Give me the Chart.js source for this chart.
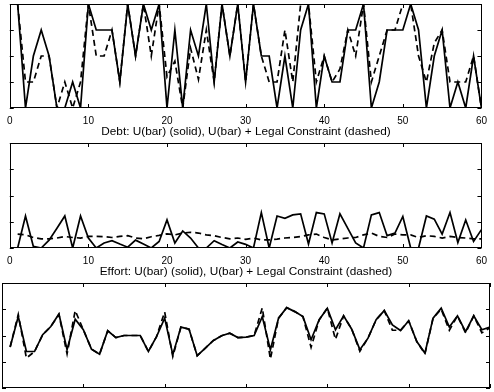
<!DOCTYPE html>
<html>
<head>
<meta charset="utf-8">
<script src="https://cdn.jsdelivr.net/npm/chart.js@4/dist/chart.umd.min.js"></script>
<style>
  html, body { margin: 0; padding: 0; background: #fff; }
  #wrap { position: relative; width: 494px; height: 392px; overflow: hidden; }
  .box { position: absolute; left: 0; width: 494px; }
</style>
</head>
<body>
<div id="wrap">
  <div class="box" style="top:0;height:140px"><canvas id="debtChart"></canvas></div>
  <div class="box" style="top:140px;height:140px"><canvas id="effortChart"></canvas></div>
  <div class="box" style="top:280px;height:112px"><canvas id="thirdChart"></canvas></div>
</div>
<script>
// Periods on the x axis
const periods = [1,2,3,4,5,6,7,8,9,10,11,12,13,14,15,16,17,18,19,20,
  21,22,23,24,25,26,27,28,29,30,31,32,33,34,35,36,37,38,39,40,
  41,42,43,44,45,46,47,48,49,50,51,52,53,54,55,56,57,58,59,60];
const xTicks = [0, 10, 20, 30, 40, 50, 60];
const yTicks = [0, 1, 2, 3, 4];

// Debt: U(bar) (solid) and U(bar) + legal constraint (dashed)
const debtSolid = [4,0,2,3,2,0,0,1,0,4,3,3,3,1,4,2,4,3,4,0,
  3,0,3,2,4,1,4,2,4,1,4,2,2,0,2,0,3,4,0,2,
  1,1,3,3,4,0,1,3,3,3,4,3,0,2,3,0,1,0,2,0];
const debtDashed = [4,1,1,2,2,0,1,0,1,4,2,2,3,1,4,2,4,2,4,1.2,
  1.8,0,2.3,1.1,3,1,4,2,4,1,4,2,1,1,3,1,4,4,1,2,
  1,1.5,3,2,4,1,2,3,3,4,4,2,1,2.5,3,1,1,1,2,0];

// Effort: U(bar) (solid) and U(bar) + legal constraint (dashed)
const effortSolid = [0,1.22,0.06,0,0.3,0.75,1.22,0,1.22,0.38,0,0.19,0.28,0.15,0.03,0.3,0.15,0,0.25,1.07,
  0.19,0.65,0.38,0,0,0.28,0.13,0,0.23,0.14,0,1.35,0,1.22,1.13,1.26,1.3,0.15,1.35,1.3,
  0.19,1.3,0.75,0.19,0,1.26,1.35,0.47,0.57,1.2,0,0,1.22,1.1,0.53,1.35,0.21,1.07,0.25,0.7];
const effortDashed = [0.53,0.5,0.4,0.35,0.35,0.38,0.44,0.4,0.38,0.44,0.44,0.43,0.4,0.44,0.47,0.38,0.35,0.43,0.48,0.54,
  0.5,0.57,0.6,0.57,0.5,0.47,0.4,0.35,0.38,0.33,0.38,0.31,0.31,0.34,0.38,0.4,0.44,0.5,0.53,0.4,
  0.31,0.34,0.38,0.4,0.5,0.57,0.44,0.4,0.53,0.5,0.5,0.4,0.47,0.44,0.38,0.44,0.4,0.38,0.35,0.35];

// Third panel (no caption visible)
const thirdSolid = [1.56,2.72,1.39,1.39,2.03,2.34,2.82,1.46,2.62,2.22,1.48,1.29,2.18,1.92,2.0,2.0,2.0,1.39,1.96,2.66,
  1.27,2.32,2.24,1.23,1.52,1.81,1.99,2.09,1.92,1.94,2.0,2.72,1.46,2.66,3.06,2.91,2.72,1.84,2.6,3.04,
  2.22,2.75,2.24,1.46,1.9,2.6,2.95,2.4,2.19,2.56,1.77,1.33,2.66,3.04,2.32,2.75,2.15,2.75,2.22,2.32];
const thirdDashed = [1.56,2.8,1.14,1.39,2.03,2.34,2.8,1.3,2.95,2.22,1.48,1.29,2.18,1.92,2.0,2.0,2.0,1.39,1.96,2.9,
  1.2,2.32,2.24,1.23,1.52,1.81,1.99,2.09,1.92,1.94,2.0,3.05,1.1,2.66,3.06,2.91,2.72,1.55,2.6,3.04,
  1.85,2.75,2.24,1.4,1.9,2.6,2.95,2.2,2.2,2.56,1.77,1.3,2.66,3.0,2.2,2.75,2.1,2.75,2.1,2.3];

const family = 'Liberation Sans, Arial, sans-serif';

// Box around the plot area with matlab-style inward tick marks
const boxTicks = {
  id: 'boxTicks',
  afterDraw(chart) {
    const { ctx, chartArea: a, scales } = chart;
    const len = 4;
    ctx.save();
    ctx.strokeStyle = '#000';
    ctx.lineWidth = 1;
    ctx.strokeRect(Math.round(a.left) + 0.5, Math.round(a.top) + 0.5,
      Math.round(a.right - a.left) - 1, Math.round(a.bottom - a.top) - 1);
    ctx.beginPath();
    for (const v of xTicks) {
      const px = Math.round(scales.x.getPixelForValue(v)) + 0.5;
      ctx.moveTo(px, a.bottom); ctx.lineTo(px, a.bottom - len);
      ctx.moveTo(px, a.top); ctx.lineTo(px, a.top + len);
    }
    for (const v of yTicks) {
      const py = Math.round(scales.y.getPixelForValue(v)) + 0.5;
      ctx.moveTo(a.left, py); ctx.lineTo(a.left + len, py);
      ctx.moveTo(a.right, py); ctx.lineTo(a.right - len, py);
    }
    ctx.stroke();
    ctx.restore();
  }
};

function pairs(values) {
  return periods.map((p, i) => ({ x: p, y: values[i] }));
}

function makeChart(id, solid, dashed, title, showX, padding) {
  return new Chart(document.getElementById(id), {
    type: 'line',
    data: {
      datasets: [
        { data: pairs(solid), borderColor: '#000', borderWidth: 1.7, pointRadius: 0, tension: 0 },
        { data: pairs(dashed), borderColor: '#000', borderWidth: 1.7, borderDash: [6, 4], pointRadius: 0, tension: 0 }
      ]
    },
    options: {
      responsive: true,
      maintainAspectRatio: false,
      animation: false,
      layout: { padding },
      plugins: {
        legend: { display: false },
        tooltip: { enabled: false },
        title: {
          display: !!title,
          text: title,
          position: 'bottom',
          color: '#000',
          font: { family, size: 11.8, weight: 'normal', lineHeight: 1 },
          padding: { top: 1.8, bottom: 2.4 }
        }
      },
      scales: {
        x: {
          type: 'linear',
          min: 0, max: 60,
          grid: { display: false, drawTicks: false, tickLength: 0 },
          border: { display: false },
          afterBuildTicks: axis => { axis.ticks = xTicks.map(v => ({ value: v })); },
          afterFit: axis => { axis.height = showX ? 16 : 0; },
          ticks: { display: showX, color: '#000', font: { family, size: 10 }, padding: 7, maxRotation: 0, autoSkip: false }
        },
        y: {
          min: 0, max: 4,
          grid: { display: false, drawTicks: false },
          border: { display: false },
          afterBuildTicks: axis => { axis.ticks = yTicks.map(v => ({ value: v })); },
          afterFit: axis => { axis.width = 0; },
          ticks: { display: false }
        }
      }
    },
    plugins: [boxTicks]
  });
}

makeChart('debtChart', debtSolid, debtDashed,
  'Debt: U(bar) (solid), U(bar) + Legal Constraint (dashed)', true,
  { top: 4, left: 2, right: 4, bottom: 0 });
makeChart('effortChart', effortSolid, effortDashed,
  'Effort: U(bar) (solid), U(bar) + Legal Constraint (dashed)', true,
  { top: 3, left: 2, right: 4, bottom: 0 });
makeChart('thirdChart', thirdSolid, thirdDashed, '', false,
  { top: 3, left: 2, right: 4, bottom: 4 });
</script>
</body>
</html>
